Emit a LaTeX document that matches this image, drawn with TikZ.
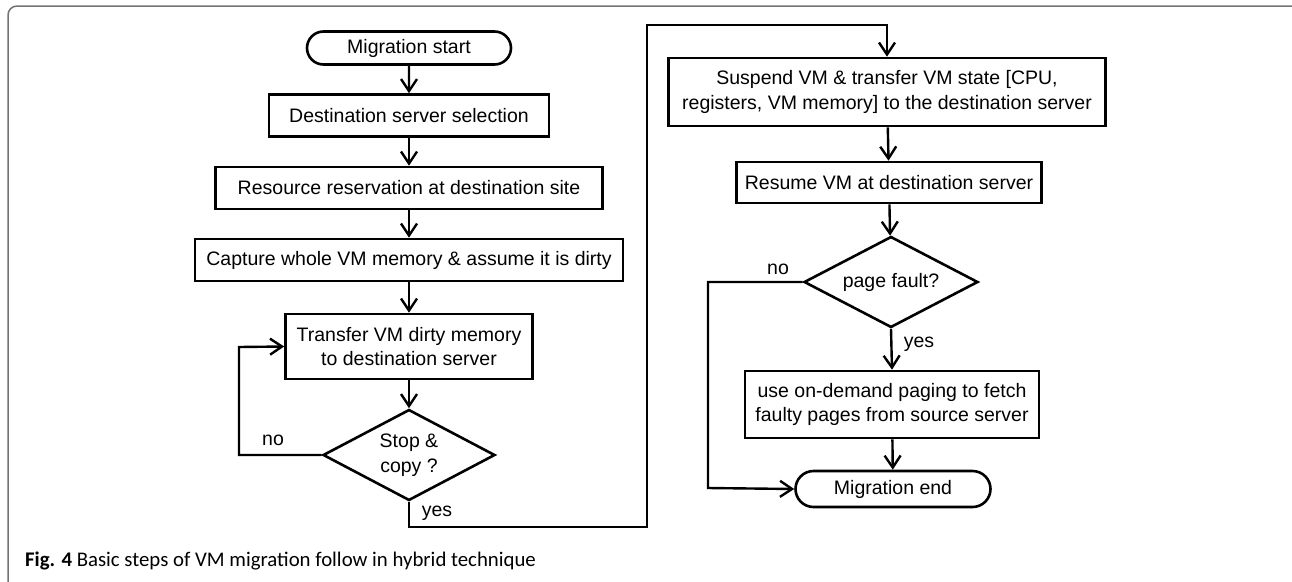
\documentclass[tikz,border=0pt]{standalone}
\usepackage{fontspec}
\setmainfont{Liberation Sans}
\newfontfamily\capfont{Carlito}
\usetikzlibrary{arrows.meta,shapes.geometric,shapes.misc}
\begin{document}
\begin{tikzpicture}[x=1pt,y=-1pt,
  every node/.style={font=\fontsize{19.5}{24.5}\selectfont, inner sep=0pt, align=center},
  procbox/.style={draw, line width=2.6pt, rectangle},
  termbox/.style={draw, line width=2.6pt, rounded rectangle},
  decbox/.style={draw, line width=2.6pt, diamond, shape aspect=1.9},
  conn/.style={line width=2.4pt, -{Straight Barb[length=12pt,width=16pt]}},
  lbl/.style={}]
\useasboundingbox (0,0) rectangle (1292,581);
\clip (0,0) rectangle (1292,581);
\draw[line width=1.5pt, draw=black!55, rounded corners=9pt] (8,6) rectangle (1300,590);

% left column
\node[termbox, minimum width=204pt, minimum height=33pt] (start) at (409,48) {Migration start};
\node[procbox, minimum width=280pt, minimum height=42pt] (dest) at (409,115.5) {Destination server selection};
\node[procbox, minimum width=387pt, minimum height=42pt] (res) at (409,188) {Resource reservation at destination site};
\node[procbox, minimum width=428pt, minimum height=42pt] (cap) at (409,260) {Capture whole VM memory \& assume it is dirty};
\node[procbox, minimum width=247pt, minimum height=65pt] (xfer) at (409,346.5) {Transfer VM dirty memory\\to destination server};
\node[decbox, minimum width=172pt, minimum height=91pt] (stop) at (409,455) {Stop \&\\copy ?};

% right column
\node[procbox, minimum width=437pt, minimum height=68pt] (susp) at (887,92) {Suspend VM \& transfer VM state [CPU,\\registers, VM memory] to the destination server};
\node[procbox, minimum width=305pt, minimum height=41pt] (resume) at (889,182.5) {Resume VM at destination server};
\node[decbox, minimum width=174pt, minimum height=91pt] (pf) at (891,282) {page fault?};
\node[procbox, minimum width=294pt, minimum height=67pt] (use) at (892,404.5) {use on-demand paging to fetch\\faulty pages from source server};
\node[termbox, minimum width=195pt, minimum height=36pt] (end) at (893,489) {Migration end};

\coordinate (l1) at (239,455);
\coordinate (l2) at (239,347);
\coordinate (y1) at (409,527);
\coordinate (y2) at (647,527);
\coordinate (y3) at (647,25);
\coordinate (y4) at (887,25);
\coordinate (n1) at (708,282);
\coordinate (n2) at (708,488);

\draw[conn] (start) -- (dest);
\draw[conn] (dest) -- (res);
\draw[conn] (res) -- (cap);
\draw[conn] (cap) -- (xfer);
\draw[conn] (xfer) -- (stop);
\draw[conn] (stop.west) -- (l1) -- (l2) -- (xfer.west);
\draw[conn] (stop.south) -- (y1) -- (y2) -- (y3) -- (y4) -- (susp.north);
\draw[conn] (susp) -- (resume);
\draw[conn] (resume) -- (pf);
\draw[conn] (pf.south) -- (use.north);
\draw[conn] (use) -- (end);
\draw[conn] (pf.west) -- (n1) -- (n2) -- (end.west);

\node[lbl] (no1) at (273,440) {no};
\node[lbl] (yes1) at (437,513) {yes};
\node[lbl] (no2) at (778,269) {no};
\node[lbl] (yes2) at (919,344) {yes};

\node[anchor=base west, font=\capfont\fontsize{20.8}{24}\selectfont] (cap1) at (25,566) {\textbf{Fig. 4} Basic steps of VM migration follow in hybrid technique};
\end{tikzpicture}
\end{document}
